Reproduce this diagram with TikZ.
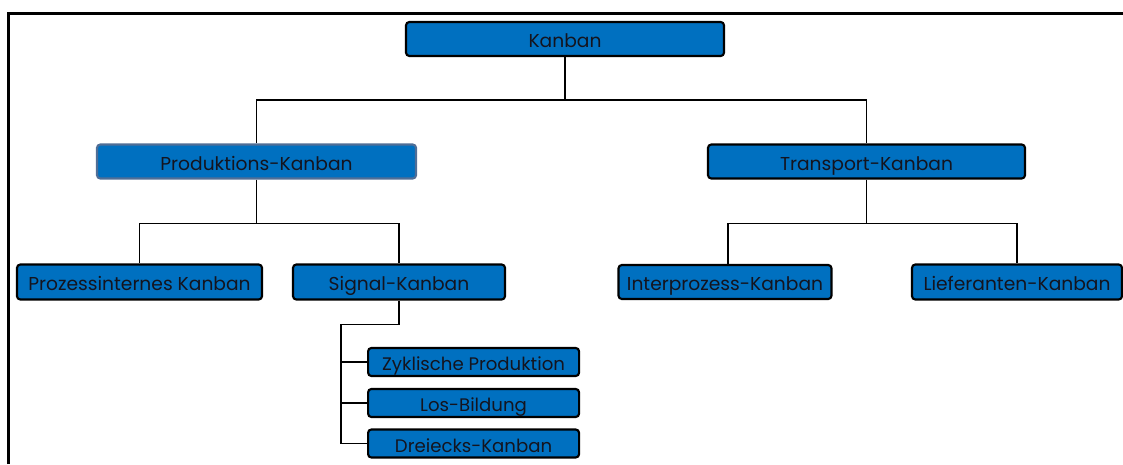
\documentclass[tikz,border=0pt]{standalone}
\usepackage{fontspec}
\setmainfont{Poppins}
\definecolor{kblue}{RGB}{0,112,192}
\definecolor{kedge}{RGB}{80,110,150}
\definecolor{ktext}{RGB}{20,20,30}
\begin{document}
\begin{tikzpicture}[x=0.75pt,y=-0.75pt,
  box/.style 2 args={draw=black, line width=1.6pt, fill=kblue, rounded corners=2.5pt,
    minimum width=#1*0.75pt, minimum height=#2*0.75pt, inner sep=0pt,
    text height=12.8pt, text depth=0pt,
    text=ktext, font=\fontsize{14}{16}\selectfont},
  softbox/.style={draw=kedge},
  smallbox/.style={font=\fontsize{13.6}{15}\selectfont},
  link/.style={line width=1.3pt, draw=black}]
\useasboundingbox (0,0) rectangle (1123,464);
% frame
\draw[line width=2pt] (8.5,464) -- (8.5,13.5) -- (1123,13.5);

% top level
\node[box={318}{34}] (kanban) at (565,39) {Kanban};
% second level
\node[box={319}{34}, softbox] (prod) at (256.5,161.5) {Produktions-Kanban};
\node[box={317}{34}] (trans) at (866.5,161.5) {Transport-Kanban};
% third level
\node[box={245}{35}] (proz) at (139.5,282) {Prozessinternes Kanban};
\node[box={212}{35}] (signal) at (399,282) {Signal-Kanban};
\node[box={213}{34}] (inter) at (725,282) {Interprozess-Kanban};
\node[box={210}{35}] (liefer) at (1017,282) {Lieferanten-Kanban};
% signal kanban variants
\node[box={211}{28}, smallbox, anchor=west] (zyk) at (367,362) {Zyklische Produktion};
\node[box={211}{28}, smallbox, anchor=west] (los) at (367,403) {Los-Bildung};
\node[box={211}{28}, smallbox, anchor=west] (drei) at (367,443.5) {Dreiecks-Kanban};

% connectors
\draw[link] (kanban.south) -- ++(0,43) coordinate (k1);
\draw[link] (prod.north) |- (k1) -| (trans.north);
\draw[link] (prod.south) -- ++(0,44) coordinate (p1);
\draw[link] (proz.north) |- (p1) -| (signal.north);
\draw[link] (trans.south) -- ++(0,44) coordinate (t1);
\draw[link] ([xshift=2.25pt]inter.north) |- (t1) -| (liefer.north);
\draw[link] (signal.south) -- ++(0,24) coordinate (s1);
\draw[link] (s1) -| (drei.west -| 341,0) -- (drei.west);
\draw[link] (zyk.west -| 341,0) -- (zyk.west);
\draw[link] (los.west -| 341,0) -- (los.west);
\end{tikzpicture}
\end{document}
